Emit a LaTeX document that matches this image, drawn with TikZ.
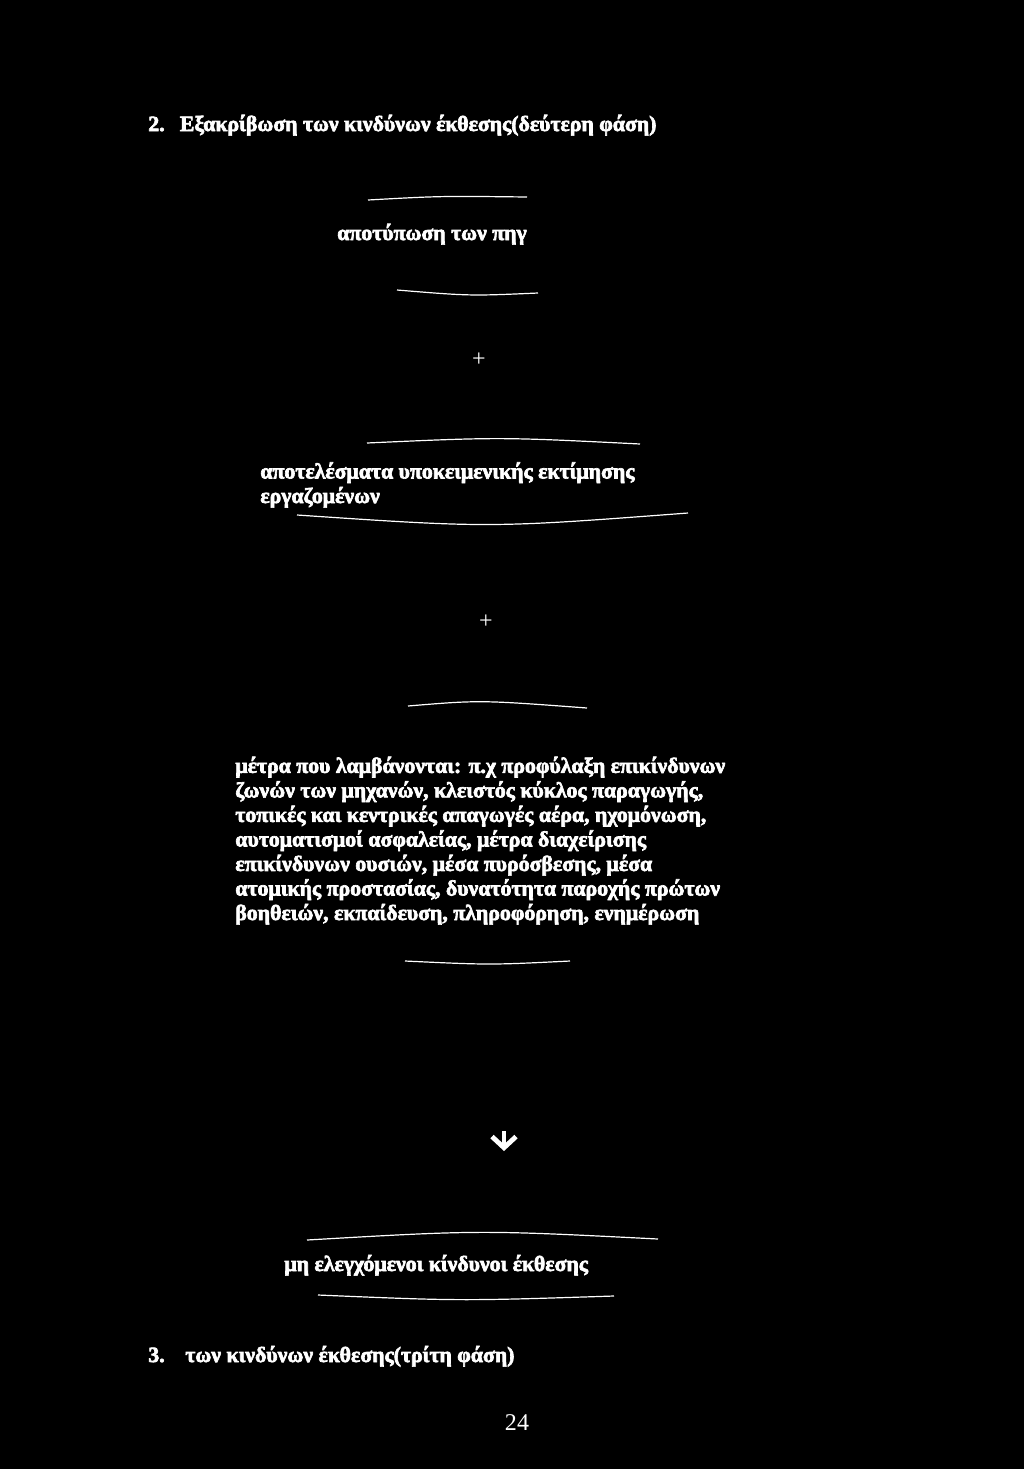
\documentclass[tikz,border=0pt]{standalone}
\usepackage{fontspec}
\setmainfont{Liberation Serif}
\newfontfamily\boldserif{Liberation Serif Bold}[FakeBold=3]
\usetikzlibrary{arrows.meta}

\begin{document}
\begin{tikzpicture}[x=0.0205cm,y=-0.0205cm,
    txt/.style={text=white,inner sep=0pt,font=\boldserif\fontsize{12.7}{14.3}\selectfont},
    rule/.style={white,line width=0.7pt}]
    \fill[black](0,0) rectangle (1024,1469);
    \useasboundingbox (0,0) rectangle (1024,1469);
    %背景与页面大小
    \node[txt,anchor=base west] (head2) at (148,131) {2.\hspace{0.7em}Εξακρίβωση των κινδύνων έκθεσης(δεύτερη φάση)};
    %第二阶段标题
    \draw[rule](368,200) .. controls (440,196) .. (527,197);
    \node[txt,anchor=base] (sources) at (432,240) {αποτύπωση των πηγ};
    \draw[rule](397,290) .. controls (470,296) .. (538,293);
    %来源一栏
    \node[text=white,inner sep=0pt,font=\fontsize{14}{14}\selectfont] (plus1) at (479,360) {+};
    \draw[rule](367,443) .. controls (500,437) .. (640,444);
    \node[txt,anchor=base west,align=left] (survey) at (260,503) {αποτελέσματα υποκειμενικής εκτίμησης\\εργαζομένων};
    \draw[rule](297,515) .. controls (490,528) .. (688,513);
    %工人评估一栏
    \node[text=white,inner sep=0pt,font=\fontsize{14}{14}\selectfont] (plus2) at (486,622) {+};
    \draw[rule](408,706) .. controls (480,700) .. (587,708);
    \node[txt,anchor=base west,align=left] (measures) at (235,920) {μέτρα που λαμβάνονται: π.χ προφύλαξη επικίνδυνων\\
        ζωνών των μηχανών, κλειστός κύκλος παραγωγής,\\
        τοπικές και κεντρικές απαγωγές αέρα, ηχομόνωση,\\
        αυτοματισμοί ασφαλείας, μέτρα διαχείρισης\\
        επικίνδυνων ουσιών, μέσα πυρόσβεσης, μέσα\\
        ατομικής προστασίας, δυνατότητα παροχής πρώτων\\
        βοηθειών, εκπαίδευση, πληροφόρηση, ενημέρωση};
    \draw[rule](405,961) .. controls (490,965) .. (570,961);
    %措施一栏
    \coordinate (arrtop) at (504,1131);
    \coordinate (arrbot) at (504,1151);
    \draw[white,line width=2.8pt,-{Straight Barb[length=6.5pt,width=14pt,line width=2.8pt]}](arrtop)--(arrbot);
    %向下箭头
    \draw[rule](307,1240) .. controls (480,1230) .. (658,1239);
    \node[txt,anchor=base west] (residual) at (284,1271) {μη ελεγχόμενοι κίνδυνοι έκθεσης};
    \draw[rule](318,1295) .. controls (460,1301) .. (614,1296);
    %未控制风险一栏
    \node[txt,anchor=base west] (head3) at (148,1362) {3.\hspace{0.95em}των κινδύνων έκθεσης(τρίτη φάση)};
    \node[text=white,inner sep=0pt,font=\fontsize{14}{14}\selectfont,anchor=base] (pageno) at (517,1430) {24};
    %第三阶段标题与页码
\end{tikzpicture}
\end{document}
